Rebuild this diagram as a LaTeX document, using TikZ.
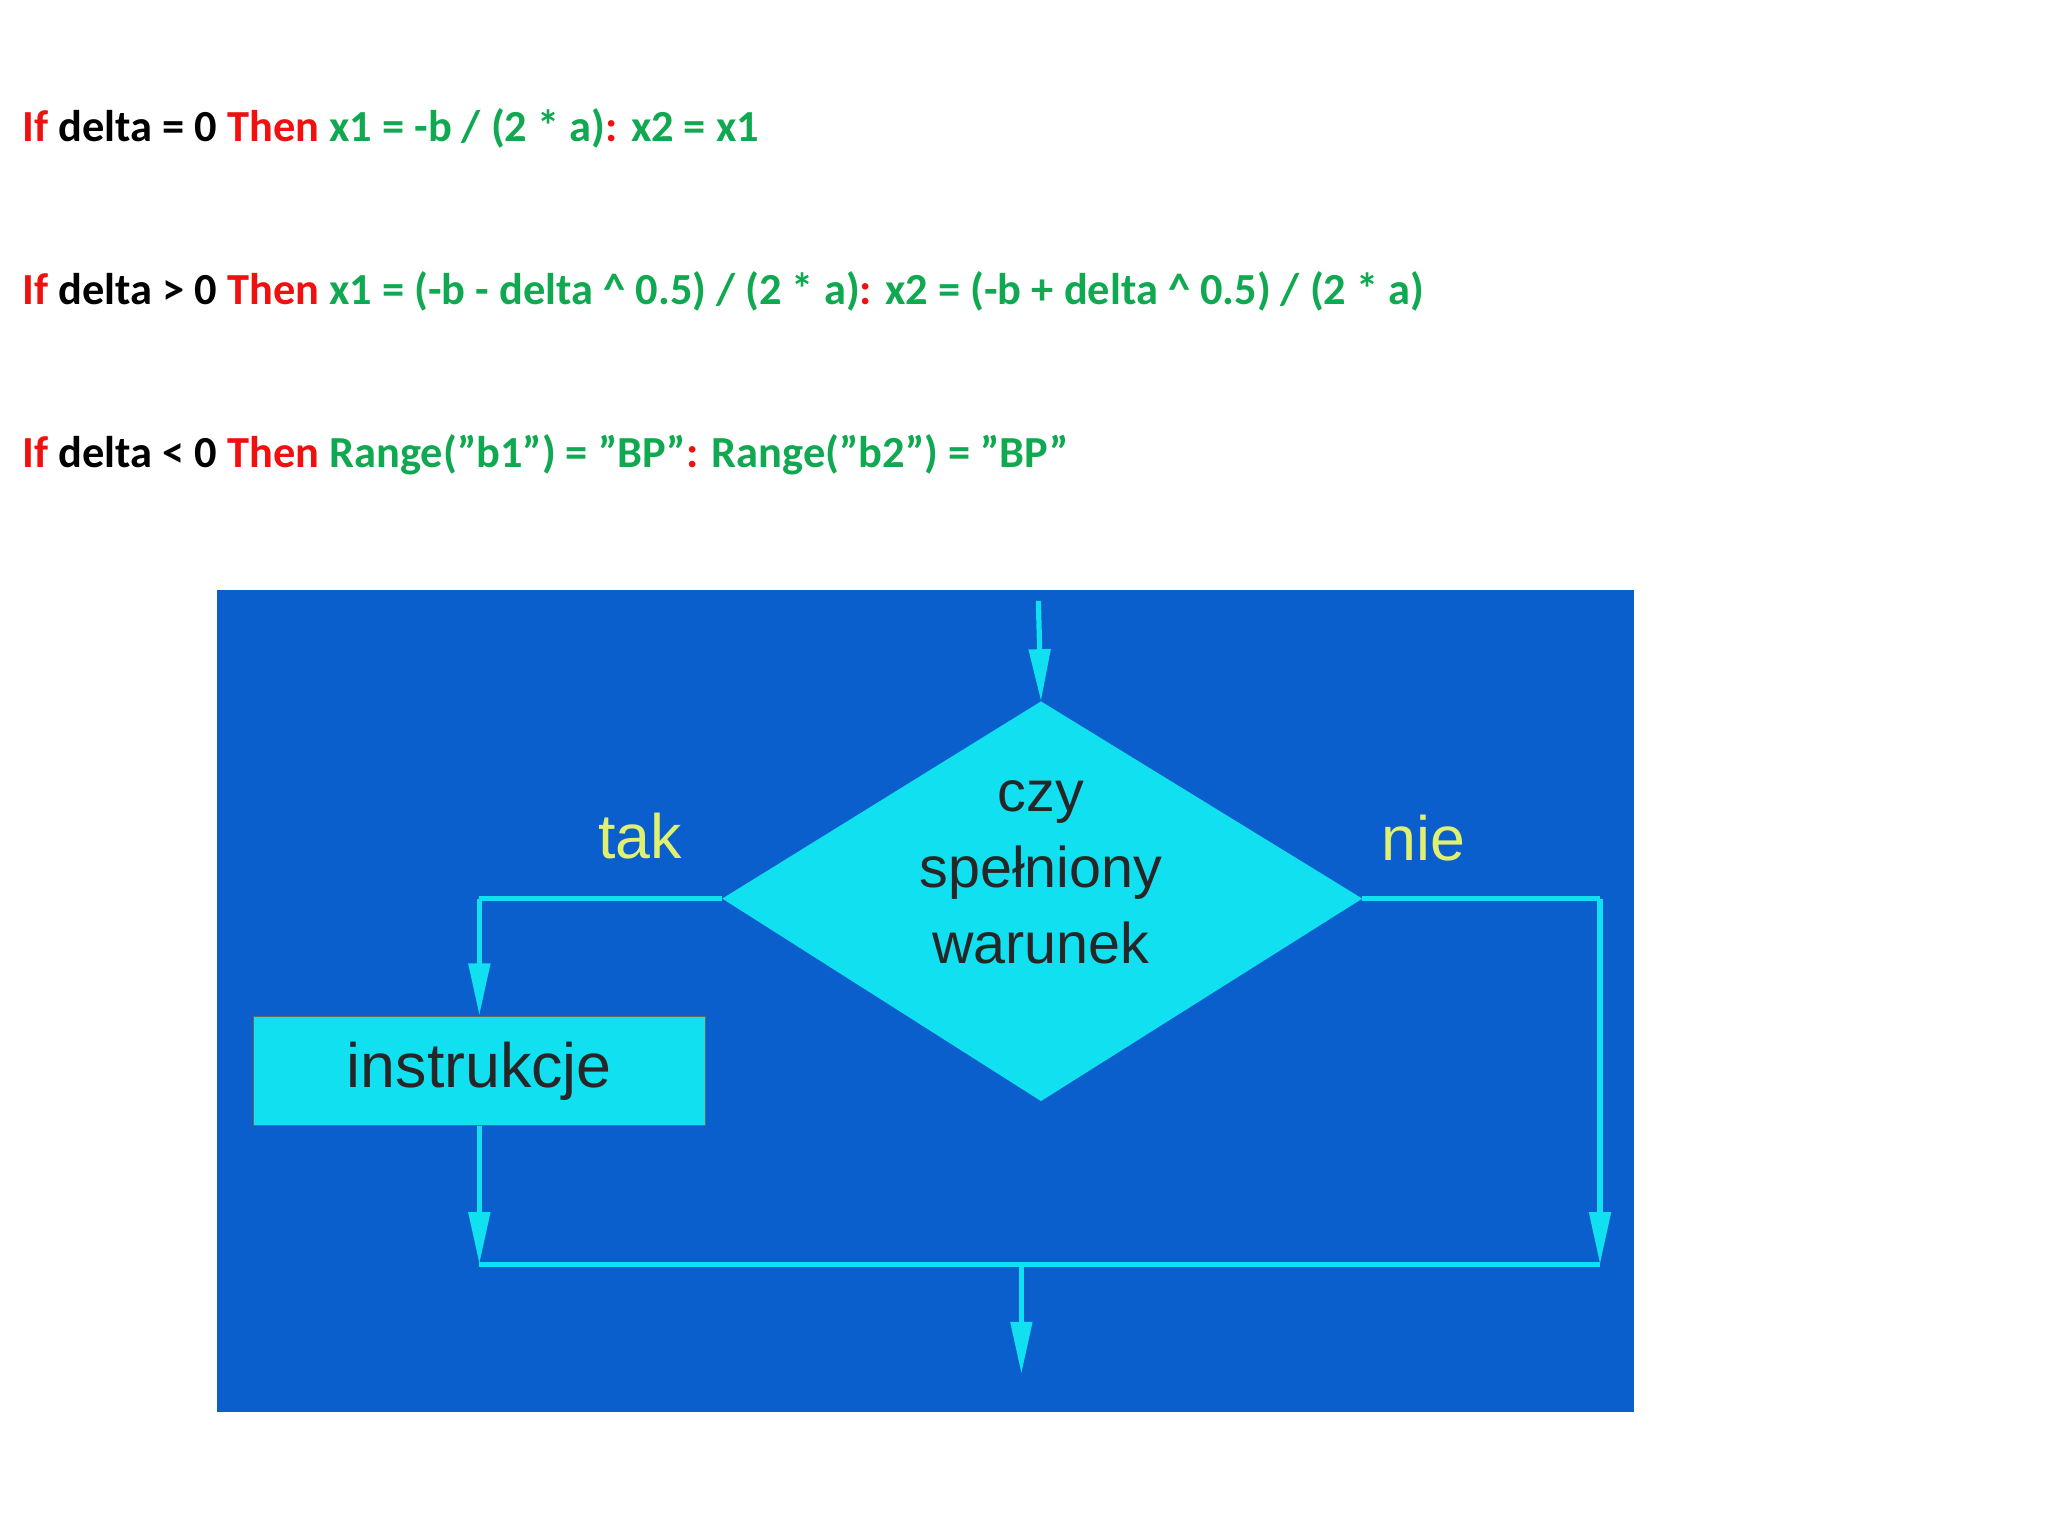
\documentclass[tikz,border=0pt]{standalone}
\usepackage{fontspec}
\setmainfont{Carlito}
\newfontfamily\arialf{Liberation Sans}
\usetikzlibrary{arrows.meta}
\definecolor{kred}{HTML}{F01010}
\definecolor{kgreen}{HTML}{10A850}
\definecolor{bg}{HTML}{0A5FCC}
\definecolor{cy}{HTML}{10E0F0}
\definecolor{yl}{HTML}{E0F070}
\tikzset{
 code/.style={anchor=west,inner sep=0,font=\fontsize{17}{20}\selectfont\bfseries},
 flow/.style={draw=cy,line width=2pt},
 arr/.style={flow,-{Triangle[length=20pt,width=8pt]}},
 lab/.style={font=\arialf\fontsize{24}{28}\selectfont,text=yl},
 dtext/.style={font=\arialf\fontsize{22}{27}\selectfont,text=black!85,align=center}
}
\begin{document}
\begin{tikzpicture}[x=0.5pt,y=-0.5pt]
\useasboundingbox (0,0) rectangle (1568,1176);
\node[code] (l1) at (17,98) {\textcolor{kred}{If} delta = 0 \textcolor{kred}{Then} \textcolor{kgreen}{x1 = -b / (2 * a)}\textcolor{kred}{:} \textcolor{kgreen}{x2 = x1}};
\node[code] (l2) at (17,223) {\textcolor{kred}{If} delta > 0 \textcolor{kred}{Then} \textcolor{kgreen}{x1 = (-b - delta \^{} 0.5) / (2 * a)}\textcolor{kred}{:} \textcolor{kgreen}{x2 = (-b + delta \^{} 0.5) / (2 * a)}};
\node[code] (l3) at (17,348) {\textcolor{kred}{If} delta < 0 \textcolor{kred}{Then} \textcolor{kgreen}{Range("b1") = "BP"}\textcolor{kred}{:} \textcolor{kgreen}{Range("b2") = "BP"}};
\fill[bg] (166,452) rectangle (1251,1081);
\coordinate (top) at (795,460);
\coordinate (dt) at (797,537);
\coordinate (dl) at (553,688);
\coordinate (dr) at (1043,688);
\coordinate (db) at (797,843);
\fill[cy] (dt) -- (dr) -- (db) -- (dl) -- cycle;
\node[dtext] (dtx) at (797,668) {czy\\[2pt]spełniony\\[2pt]warunek};
\node[draw=black!60,fill=cy,minimum width=173pt,minimum height=42pt,inner sep=0,
  font=\arialf\fontsize{24}{28}\selectfont,text=black!85] (box) at (367,820) {instrukcje};
\coordinate (lc) at (367,688);
\coordinate (rc) at (1225,688);
\coordinate (bl) at (367,968);
\coordinate (br) at (1225,968);
\coordinate (bm) at (782,968);
\coordinate (out) at (782,1052);
\draw[arr] (top) -- (dt);
\draw[flow] (dl) -- (lc);
\draw[arr] (lc) -- (box.north);
\draw[arr] (box.south) -- (bl);
\draw[flow] (dr) -- (rc);
\draw[arr] (rc) -- (br);
\draw[flow] (bl) -- (br);
\draw[arr] (bm) -- (out);
\node[lab] (tak) at (490,640) {tak};
\node[lab] (nie) at (1090,642) {nie};
\end{tikzpicture}
\end{document}
